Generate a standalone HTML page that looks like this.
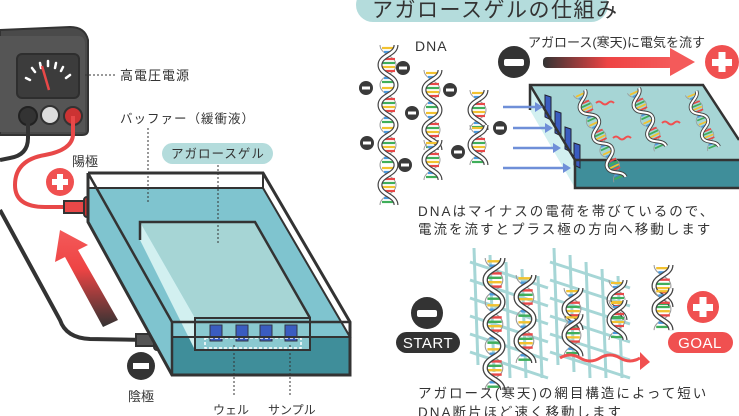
<!DOCTYPE html>
<html><head><meta charset="utf-8"><style>
html,body{margin:0;padding:0;background:#fff;}
svg{display:block;font-family:"Liberation Sans","Noto Sans CJK JP",sans-serif;}
</style></head><body>
<svg width="739" height="416" viewBox="0 0 739 416" xmlns="http://www.w3.org/2000/svg">
<defs>
<linearGradient id="ga" x1="0" y1="1" x2="0" y2="0"><stop offset="0" stop-color="#333"/><stop offset="0.6" stop-color="#e44"/><stop offset="1" stop-color="#f45a5a"/></linearGradient>
<linearGradient id="gb" x1="0" y1="0" x2="1" y2="0"><stop offset="0" stop-color="#333"/><stop offset="0.5" stop-color="#e44"/><stop offset="1" stop-color="#f45a5a"/></linearGradient>
<g id="hx">
<path d="M2,0 C2,10 18,10 18,20 C18,30 2,30 2,40" fill="none" stroke="#999" stroke-width="1"/>
<g stroke-width="2.2">
<line x1="4" y1="3" x2="16" y2="3" stroke="#f2c230"/><line x1="6" y1="7" x2="14" y2="7" stroke="#4a9be0"/>
<line x1="3" y1="14" x2="17" y2="14" stroke="#e84848"/><line x1="3" y1="18" x2="17" y2="18" stroke="#3fae5a"/>
<line x1="3" y1="22" x2="17" y2="22" stroke="#f2c230"/><line x1="3" y1="26" x2="17" y2="26" stroke="#e84848"/>
<line x1="6" y1="33" x2="14" y2="33" stroke="#4a9be0"/><line x1="4" y1="37" x2="16" y2="37" stroke="#3fae5a"/>
</g>
<path d="M18,0 C18,10 2,10 2,20 C2,30 18,30 18,40" fill="none" stroke="#444" stroke-width="5"/>
<path d="M18,0 C18,10 2,10 2,20 C2,30 18,30 18,40" fill="none" stroke="#fff" stroke-width="2.6"/>
</g>
<g id="mn"><circle r="7" fill="#3a3a3a"/><rect x="-4" y="-1.5" width="8" height="3" fill="#fff"/></g>
</defs>

<!-- power supply -->
<path d="M0,30 L70,27 Q85,27 88,40 L88,130 Q88,135 82,135 L0,135 Z" fill="#4a4a4a" stroke="#333" stroke-width="2"/>
<path d="M0,36 L78,36 Q85,36 85,44 L85,132 L0,132 Z" fill="#555"/>
<rect x="17" y="54" width="62" height="44" rx="5" fill="#3c3c3c" stroke="#2e2e2e" stroke-width="2"/>
<g stroke="#fff" stroke-width="2.5" stroke-linecap="round">
<line x1="26" y1="78" x2="30" y2="80"/><line x1="32" y1="68" x2="35" y2="72"/><line x1="40" y1="63" x2="41" y2="68"/><line x1="48" y1="61" x2="48" y2="66"/><line x1="56" y1="63" x2="55" y2="68"/><line x1="63" y1="67" x2="61" y2="71"/><line x1="70" y1="75" x2="66" y2="78"/></g>
<line x1="42" y1="66" x2="49" y2="90" stroke="#e84848" stroke-width="2.5"/>
<circle cx="28" cy="116" r="9" fill="#333" stroke="#222" stroke-width="2"/>
<circle cx="50" cy="115" r="9" fill="#ddd" stroke="#333" stroke-width="2"/>
<circle cx="73" cy="116" r="9" fill="#c33" stroke="#333" stroke-width="2"/>
<!-- wires -->
<path d="M28,118 L28,138 Q28,155 10,158 L0,160" fill="none" stroke="#333" stroke-width="4"/>
<path d="M0,210 L60,320 Q66,338 90,339 L148,340" fill="none" stroke="#333" stroke-width="4"/>
<path d="M73,116 L73,135 Q72,150 45,155 Q15,160 15,185 Q15,207 45,207 L75,207" fill="none" stroke="#e84848" stroke-width="4"/>
<rect x="64" y="201" width="22" height="12" fill="#e84848" stroke="#333" stroke-width="2"/>
<rect x="84" y="197" width="10" height="20" rx="3" fill="#c33" stroke="#333" stroke-width="2"/>
<rect x="136" y="334" width="22" height="12" fill="#555" stroke="#333" stroke-width="2"/>
<rect x="154" y="330" width="12" height="20" rx="3" fill="#666" stroke="#333" stroke-width="2"/>
<!-- red arrow -->
<polygon points="103,327 118,320 78,250 88,245 60,230 55,262 65,257" fill="url(#ga)"/>

<!-- tank -->
<polygon points="88,188 263,188 350,337 350,375 172,375 88,222" fill="#7fc4cf"/>
<polygon points="172,337 350,337 350,375 172,375" fill="#3f8e9a"/>
<polygon points="88,188 263,188 263,173 88,173" fill="#fff"/>
<polygon points="140,222 255,222 310,318 195,318" fill="#a6d5d5"/>
<polygon points="140,222 195,318 195,350 140,240" fill="#d2f0f0"/>
<polygon points="195,318 310,318 310,350 195,350" fill="#8ac9d0" stroke="#333" stroke-width="2"/>
<g fill="#3a5cc0" stroke="#334" stroke-width="1"><rect x="210" y="325" width="12" height="16"/><rect x="236" y="325" width="12" height="16"/><rect x="260" y="325" width="12" height="16"/><rect x="285" y="325" width="12" height="16"/></g>
<rect x="205" y="338" width="96" height="10" fill="none" stroke="#fff" stroke-width="1.5" stroke-dasharray="3,2"/>
<polyline points="140,240 140,222 255,222 310,318" fill="none" stroke="#333" stroke-width="2.5"/>
<polyline points="88,173 263,173 350,322 350,375 172,375 88,222 88,173" fill="none" stroke="#333" stroke-width="3"/>
<polyline points="88,188 263,188 350,337 172,337" fill="none" stroke="#333" stroke-width="2"/>
<line x1="172" y1="322" x2="350" y2="322" stroke="#333" stroke-width="2.5"/>
<line x1="172" y1="322" x2="172" y2="375" stroke="#333" stroke-width="2.5"/>
<line x1="88" y1="173" x2="172" y2="322" stroke="#333" stroke-width="2.5"/>
<line x1="263" y1="173" x2="263" y2="188" stroke="#333" stroke-width="2"/>

<!-- left labels -->
<g fill="#333" font-size="13">
<line x1="85" y1="75" x2="117" y2="75" stroke="#333" stroke-dasharray="2,2"/>
<text x="120" y="80" letter-spacing="1">高電圧電源</text>
<text x="120" y="123" font-size="12.5" letter-spacing="1">バッファー（緩衝液）</text>
<line x1="148" y1="128" x2="148" y2="202" stroke="#333" stroke-dasharray="2,2"/>
<rect x="162" y="143" width="111" height="21" rx="10.5" fill="#b4dcdc"/>
<text x="171" y="158" font-size="12.5" letter-spacing="1">アガロースゲル</text>
<line x1="218" y1="165" x2="218" y2="245" stroke="#333" stroke-dasharray="2,2"/>
<text x="72" y="166">陽極</text>
<text x="128" y="401">陰極</text>
<line x1="234" y1="345" x2="234" y2="395" stroke="#333" stroke-dasharray="2,2"/>
<line x1="290" y1="345" x2="290" y2="395" stroke="#333" stroke-dasharray="2,2"/>
<text x="213" y="414" font-size="12">ウェル</text>
<text x="268" y="414" font-size="12">サンプル</text>
</g>
<circle cx="60" cy="182" r="14" fill="#f05050"/><rect x="52" y="179" width="16" height="6" fill="#fff"/><rect x="57" y="174" width="6" height="16" fill="#fff"/>
<circle cx="141" cy="366" r="14" fill="#333"/><rect x="133" y="363" width="16" height="6" fill="#fff"/>

<!-- title -->
<rect x="356" y="-12" width="252" height="34" rx="17" fill="#b4dcdc"/>
<text x="372" y="17" font-size="21" fill="#333" letter-spacing="1.5">アガロースゲルの仕組み</text>

<!-- top DNA -->
<text x="415" y="51" font-size="14" fill="#333" letter-spacing="1">DNA</text>
<use href="#hx" x="378" y="45"/><use href="#hx" x="378" y="85"/><use href="#hx" x="378" y="125"/><use href="#hx" x="378" y="165"/>
<use href="#hx" x="422" y="70"/><use href="#hx" x="422" y="110"/><use href="#hx" x="422" y="140"/>
<use href="#hx" x="468" y="90"/><use href="#hx" x="468" y="125"/>
<use href="#mn" x="403" y="68"/><use href="#mn" x="366" y="88"/><use href="#mn" x="412" y="113"/><use href="#mn" x="367" y="143"/><use href="#mn" x="405" y="165"/><use href="#mn" x="450" y="90"/><use href="#mn" x="458" y="152"/><use href="#mn" x="500" y="128"/>
<text x="528" y="47" font-size="13" fill="#333">アガロース(寒天)に電気を流す</text>
<circle cx="514" cy="62" r="16" fill="#333"/><rect x="504" y="59" width="20" height="7" rx="2" fill="#fff"/>
<rect x="543" y="57" width="130" height="11" rx="4" fill="url(#gb)"/>
<polygon points="670,48 695,62 670,76" fill="#f45a5a"/>
<circle cx="722" cy="62" r="17" fill="#f05050"/><rect x="712" y="59" width="20" height="7" fill="#fff"/><rect x="718.5" y="52" width="7" height="20" fill="#fff"/>

<!-- slab -->
<polygon points="530,85 703,85 739,140 739,160 575,160" fill="#a6d5d5"/>
<polygon points="575,160 739,160 739,188 575,188" fill="#3f8e9a"/>
<polygon points="530,85 575,160 575,188 530,110" fill="#d2f0f0"/>
<g fill="#3a5cc0" stroke="#223" stroke-width="1"><polygon points="545,95 551,97 551,120 545,117"/><polygon points="555,111 561,113 561,136 555,133"/><polygon points="565,127 571,129 571,152 565,149"/><polygon points="574,143 580,145 580,168 574,165"/></g>
<polyline points="530,110 530,85 703,85 739,140" fill="none" stroke="#333" stroke-width="2.5"/>
<polyline points="530,85 575,160 739,160" fill="none" stroke="#333" stroke-width="2.5"/>
<polyline points="575,160 575,188 739,188" fill="none" stroke="#333" stroke-width="2.5"/>
<g stroke="#6f8fd8" stroke-width="2.5" fill="#6f8fd8">
<line x1="503" y1="107" x2="535" y2="107"/><polygon points="535,102 543,107 535,112" stroke="none"/>
<line x1="513" y1="128" x2="545" y2="128"/><polygon points="545,123 553,128 545,133" stroke="none"/>
<line x1="513" y1="148" x2="553" y2="148"/><polygon points="553,143 561,148 553,153" stroke="none"/>
<line x1="503" y1="168" x2="563" y2="168"/><polygon points="563,163 571,168 563,173" stroke="none"/>
</g>
<g transform="translate(572,96) rotate(-25)"><use href="#hx" transform="scale(0.8)"/><use href="#hx" y="40" transform="scale(0.8)"/><use href="#hx" y="80" transform="scale(0.8)"/></g>
<g transform="translate(626,94) rotate(-25)"><use href="#hx" transform="scale(0.8)"/><use href="#hx" y="40" transform="scale(0.8)"/></g>
<g transform="translate(684,96) rotate(-22)"><use href="#hx" transform="scale(0.75)"/><use href="#hx" y="40" transform="scale(0.75)"/></g>
<g stroke="#f05050" stroke-width="2" fill="none">
<path d="M596,103 q3,-3 6,0 t6,0 t6,0"/><path d="M613,138 q3,-3 6,0 t6,0 t6,0"/><path d="M662,123 q3,-3 6,0 t6,0 t6,0"/></g>

<g fill="#333" font-size="13.5" letter-spacing="2">
<text x="418" y="216">DNAはマイナスの電荷を帯びているので、</text>
<text x="418" y="234">電流を流すとプラス極の方向へ移動します</text>
</g>

<!-- grids -->
<g stroke="#a6d6d6" stroke-width="3" fill="none">
<line x1="474" y1="248" x2="478" y2="365"/><line x1="490" y1="255" x2="494" y2="372"/><line x1="506" y1="262" x2="510" y2="378"/><line x1="522" y1="269" x2="526" y2="378"/><line x1="538" y1="276" x2="542" y2="378"/>
<line x1="470" y1="262" x2="548" y2="288"/><line x1="470" y1="280" x2="548" y2="306"/><line x1="470" y1="298" x2="548" y2="324"/><line x1="470" y1="316" x2="548" y2="342"/><line x1="470" y1="334" x2="548" y2="360"/><line x1="470" y1="352" x2="548" y2="378"/>
<line x1="554" y1="248" x2="558" y2="365"/><line x1="570" y1="255" x2="574" y2="372"/><line x1="586" y1="262" x2="590" y2="378"/><line x1="602" y1="269" x2="606" y2="378"/><line x1="618" y1="276" x2="622" y2="378"/>
<line x1="550" y1="262" x2="630" y2="288"/><line x1="550" y1="280" x2="630" y2="306"/><line x1="550" y1="298" x2="630" y2="324"/><line x1="550" y1="316" x2="630" y2="342"/><line x1="550" y1="334" x2="630" y2="360"/><line x1="550" y1="352" x2="630" y2="378"/>
</g>
<g transform="translate(483,258) scale(1.1)"><use href="#hx"/><use href="#hx" y="40"/><use href="#hx" y="80"/></g>
<g transform="translate(514,275) scale(1.1)"><use href="#hx"/><use href="#hx" y="40"/></g>
<g transform="translate(562,288) scale(1.05)"><use href="#hx"/><use href="#hx" y="25"/></g>
<g transform="translate(607,280)"><use href="#hx"/><use href="#hx" y="20"/></g>
<g transform="translate(652,265) scale(1.05)"><use href="#hx"/><use href="#hx" y="22"/></g>
<path d="M560,358 q10,-6 20,0 t20,0 t20,0 t20,0" stroke="#f05050" stroke-width="3" fill="none"/>
<polygon points="640,352 650,362 640,370" fill="#f05050"/>
<circle cx="427" cy="313" r="16" fill="#333"/><rect x="417" y="310" width="20" height="7" rx="2" fill="#fff"/>
<rect x="396" y="332" width="64" height="21" rx="10.5" fill="#333"/>
<text x="428" y="348" font-size="15" fill="#fff" text-anchor="middle" letter-spacing="0.5">START</text>
<circle cx="703" cy="307" r="16" fill="#f05050"/><rect x="693" y="304" width="20" height="7" fill="#fff"/><rect x="699.5" y="297" width="7" height="20" fill="#fff"/>
<rect x="668" y="332" width="65" height="21" rx="10.5" fill="#f05050"/>
<text x="700" y="348" font-size="15" fill="#fff" text-anchor="middle" letter-spacing="0.5">GOAL</text>

<g fill="#333" font-size="13.5" letter-spacing="2">
<text x="418" y="398">アガロース(寒天)の網目構造によって短い</text>
<text x="418" y="417">DNA断片ほど速く移動します</text>
</g>
</svg>
</body></html>
